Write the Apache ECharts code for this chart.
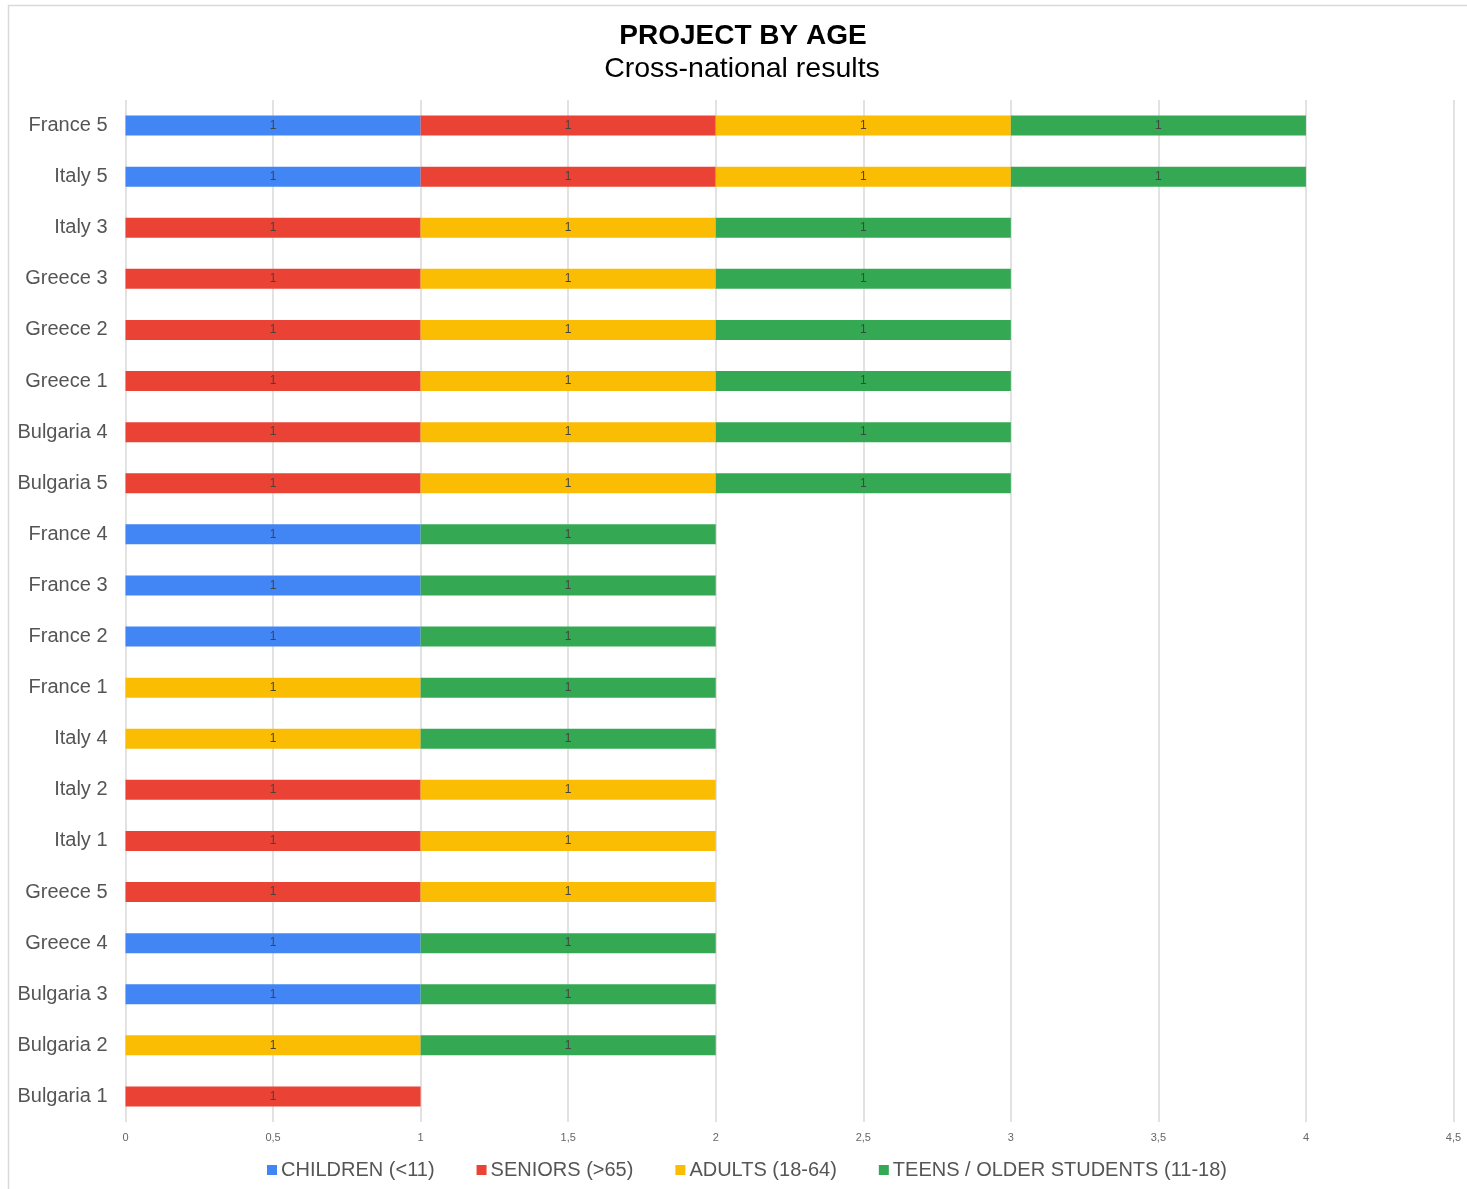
<!DOCTYPE html>
<html>
<head>
<meta charset="utf-8">
<script src="https://cdn.jsdelivr.net/npm/echarts@6/dist/echarts.min.js"></script>
<style>
html,body{margin:0;padding:0;background:#fff;}
#chart{width:1467px;height:1189px;}
</style>
</head>
<body>
<div id="chart"></div>
<script>
const categories = ["France 5","Italy 5","Italy 3","Greece 3","Greece 2","Greece 1","Bulgaria 4","Bulgaria 5","France 4","France 3","France 2","France 1","Italy 4","Italy 2","Italy 1","Greece 5","Greece 4","Bulgaria 3","Bulgaria 2","Bulgaria 1"];
const children = [1,1,null,null,null,null,null,null,1,1,1,null,null,null,null,null,1,1,null,null];
const seniors  = [1,1,1,1,1,1,1,1,null,null,null,null,null,1,1,1,null,null,null,1];
const adults   = [1,1,1,1,1,1,1,1,null,null,null,1,1,1,1,1,null,null,1,null];
const teens    = [1,1,1,1,1,1,1,1,1,1,1,1,1,null,null,null,1,1,1,null];
const seriesNames = ["CHILDREN (<11)","SENIORS (>65)","ADULTS (18-64)","TEENS / OLDER STUDENTS (11-18)"];
const colors = ["#4285F4","#EA4335","#FBBC04","#34A853"];
const xTicks = ["0","0,5","1","1,5","2","2,5","3","3,5","4","4,5"];

const font = "Arial, 'Liberation Sans', Helvetica, sans-serif";
const chart = echarts.init(document.getElementById('chart'), null, {renderer:'canvas'});
const dataSets = [children, seniors, adults, teens];
chart.setOption({
  animation:false,
  backgroundColor:'#fff',
  graphic:[{type:'rect', shape:{x:8.5,y:5.5,width:1600,height:1400}, style:{fill:'none',stroke:'#d9d9d9',lineWidth:1.5}, silent:true}],
  title:[
    {text:'PROJECT BY AGE', left:738, textAlign:'center', top:17, textStyle:{fontFamily:font,fontSize:28,fontWeight:'bold',color:'#000'}},
    {text:'Cross-national results', left:737, textAlign:'center', top:50, textStyle:{fontFamily:font,fontSize:28.5,fontWeight:'normal',color:'#000'}}
  ],
  legend:{
    bottom:4, left:262, itemWidth:10, itemHeight:10, itemGap:42, icon:'rect',
    textStyle:{fontFamily:font,fontSize:20,color:'#555',padding:[0,0,0,-1]},
    data:seriesNames
  },
  grid:{left:125.5,right:13.5,top:100,bottom:67,containLabel:false},
  xAxis:{
    type:'value', min:0, max:4.5, interval:0.5,
    axisLine:{show:false}, axisTick:{show:false},
    splitLine:{show:true,lineStyle:{color:'#d9d9d9',width:1.5}},
    axisLabel:{fontFamily:font,fontSize:11,color:'#666',margin:10,
      formatter:function(v){ const i=Math.round(v/0.5); return xTicks[i]!==undefined?xTicks[i]:String(v).replace('.',','); }}
  },
  yAxis:{
    type:'category', data:categories, inverse:true,
    axisLine:{show:false}, axisTick:{show:false}, splitLine:{show:false},
    axisLabel:{fontFamily:font,fontSize:20,color:'#555',margin:18}
  },
  series: seriesNames.map((n,i)=>({
    name:n, type:'bar', stack:'total', barWidth:20,
    data:dataSets[i],
    itemStyle:{color:colors[i]},
    label:{show:true,position:'inside',fontFamily:font,fontSize:12,color:'#444',
      formatter:function(p){return p.value==null?'':String(p.value);}}
  }))
});
</script>
</body>
</html>
